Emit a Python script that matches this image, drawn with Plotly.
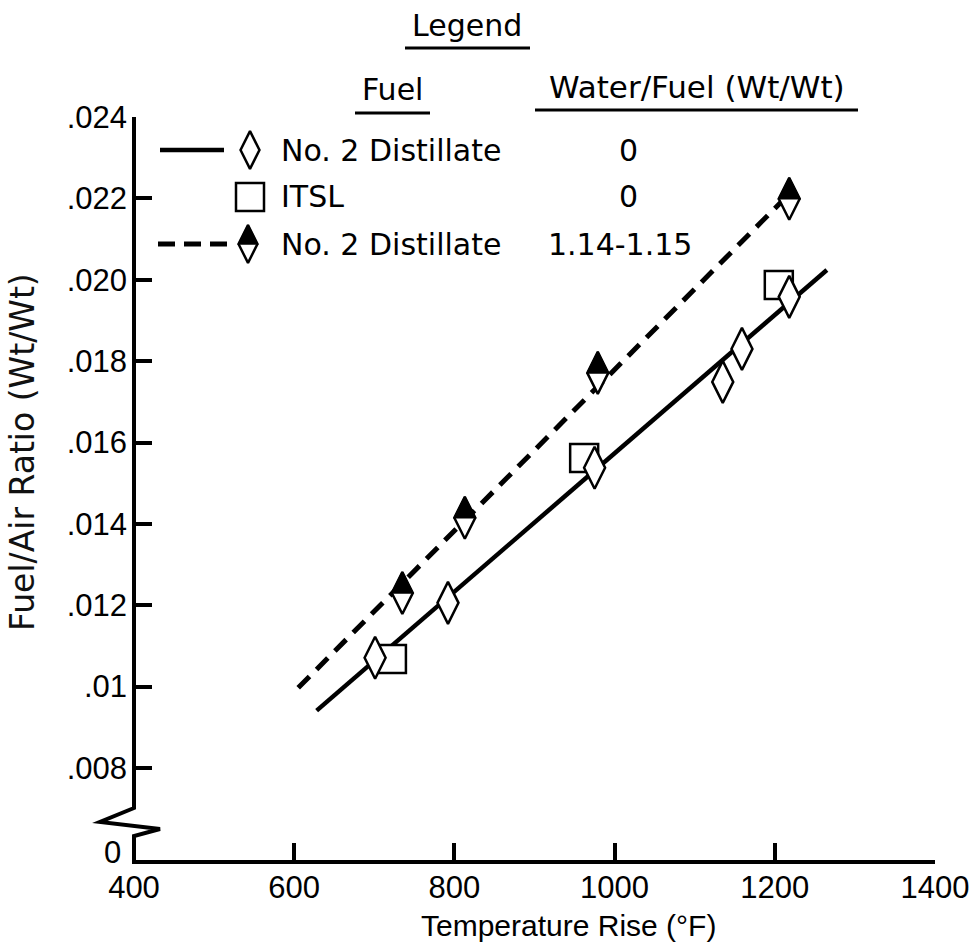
import plotly.graph_objects as go

# ---------------- data ----------------
dist_dry_x = [701, 792, 975, 1135, 1159, 1218]
dist_dry_y = [0.01071, 0.01206, 0.01538, 0.01749, 0.01830, 0.01958]
itsl_x = [722, 962, 1205]
itsl_y = [0.01068, 0.01562, 0.01987]
dist_wet_x = [735, 813, 979, 1218]
dist_wet_y = [0.01230, 0.01415, 0.01771, 0.02199]
fit_dry_x = [628, 1265]
fit_dry_y = [0.00941, 0.02024]
fit_wet_x = [605, 1212]
fit_wet_y = [0.00997, 0.02199]

x_ticks = [400, 600, 800, 1000, 1200, 1400]
x_tick_labels = ["400", "600", "800", "1000", "1200", "1400"]
y_ticks = [0.008, 0.010, 0.012, 0.014, 0.016, 0.018, 0.020, 0.022, 0.024]
y_tick_labels = [".008", ".01", ".012", ".014", ".016", ".018", ".020", ".022", ".024"]
y_break_label = "0"

legend_title = "Legend"
legend_col1 = "Fuel"
legend_col2 = "Water/Fuel (Wt/Wt)"
legend_fuels = ["No. 2 Distillate", "ITSL", "No. 2 Distillate"]
legend_ratios = ["0", "0", "1.14-1.15"]

x_title = "Temperature Rise (\u00b0F)"
y_title = "Fuel/Air Ratio (Wt/Wt)"

# ---------------- layout geometry ----------------
W, H = 980, 951
L, R, T, B = 134, 45, 117, 89
PW, PH = W - L - R, H - T - B
X_RANGE = [400, 1400]
Y_RANGE = [0.00569, 0.024]


def px(xp):
    return (xp - L) / PW


def py(yp):
    return (H - B - yp) / PH


SANS = "Liberation Sans, Arial, sans-serif"
WIDE = "DejaVu Sans, sans-serif"

fig = go.Figure()

# fitted lines
fig.add_trace(go.Scatter(x=fit_wet_x, y=fit_wet_y, mode="lines",
                         line=dict(color="black", width=5, dash="16px,10px"),
                         hoverinfo="skip", showlegend=False))
fig.add_trace(go.Scatter(x=fit_dry_x, y=fit_dry_y, mode="lines",
                         line=dict(color="black", width=4.5),
                         hoverinfo="skip", showlegend=False))


def half_diamond(fig, xs, ys, size, xaxis="x", yaxis="y"):
    fig.add_trace(go.Scatter(x=xs, y=ys, mode="markers", xaxis=xaxis, yaxis=yaxis,
                             marker=dict(symbol="diamond-tall", size=size, color="white",
                                         line=dict(color="black", width=2.5)),
                             hoverinfo="skip", showlegend=False, cliponaxis=False))
    fig.add_trace(go.Scatter(x=xs, y=ys, mode="markers", xaxis=xaxis, yaxis=yaxis,
                             marker=dict(symbol="arrow-down", size=0.7 * size, angle=180,
                                         standoff=0.7 * size, color="black",
                                         line=dict(color="black", width=1.5)),
                             hoverinfo="skip", showlegend=False, cliponaxis=False))


# squares (ITSL)
fig.add_trace(go.Scatter(x=itsl_x, y=itsl_y, mode="markers",
                         marker=dict(symbol="square", size=28, color="white",
                                     line=dict(color="black", width=2.5)),
                         showlegend=False, cliponaxis=False))
# diamonds (No. 2 distillate dry)
fig.add_trace(go.Scatter(x=dist_dry_x, y=dist_dry_y, mode="markers",
                         marker=dict(symbol="diamond-tall", size=30, color="white",
                                     line=dict(color="black", width=2.5)),
                         showlegend=False, cliponaxis=False))
# half-filled diamonds (water injected)
half_diamond(fig, dist_wet_x, dist_wet_y, 30)

# ---------------- hand-made legend (paper-like overlay axes) ----------------
row_y = [py(150), py(197), py(244)]
glyph_x = px(250)
fig.add_trace(go.Scatter(x=[px(160), px(224)], y=[row_y[0], row_y[0]], mode="lines",
                         xaxis="x2", yaxis="y2", line=dict(color="black", width=4.5),
                         hoverinfo="skip", showlegend=False))
fig.add_trace(go.Scatter(x=[px(158), px(236)], y=[row_y[2], row_y[2]], mode="lines",
                         xaxis="x2", yaxis="y2",
                         line=dict(color="black", width=5, dash="17px,9px"),
                         hoverinfo="skip", showlegend=False))
fig.add_trace(go.Scatter(x=[glyph_x], y=[row_y[0]], mode="markers", xaxis="x2", yaxis="y2",
                         marker=dict(symbol="diamond-tall", size=27, color="white",
                                     line=dict(color="black", width=2.5)),
                         hoverinfo="skip", showlegend=False, cliponaxis=False))
fig.add_trace(go.Scatter(x=[glyph_x], y=[row_y[1]], mode="markers", xaxis="x2", yaxis="y2",
                         marker=dict(symbol="square", size=28, color="white",
                                     line=dict(color="black", width=2.5)),
                         hoverinfo="skip", showlegend=False, cliponaxis=False))
half_diamond(fig, [px(248)], [row_y[2]], 27, xaxis="x2", yaxis="y2")

annotations = []
for i, (fuel, ratio) in enumerate(zip(legend_fuels, legend_ratios)):
    annotations.append(dict(x=px(279), y=row_y[i], xref="paper", yref="paper",
                            text=fuel, showarrow=False, xanchor="left", yanchor="middle",
                            font=dict(family=WIDE, size=30, color="black")))
    annotations.append(dict(x=px(628 if i < 2 else 620), y=row_y[i], xref="paper", yref="paper",
                            text=ratio, showarrow=False, xanchor="center", yanchor="middle",
                            font=dict(family=WIDE, size=30, color="black")))

annotations += [
    dict(x=px(467), y=py(26), xref="paper", yref="paper", text=legend_title, showarrow=False,
         xanchor="center", yanchor="middle", font=dict(family=WIDE, size=30, color="black")),
    dict(x=px(392), y=py(90), xref="paper", yref="paper", text=legend_col1, showarrow=False,
         xanchor="center", yanchor="middle", font=dict(family=WIDE, size=30, color="black")),
    dict(x=px(697), y=py(87), xref="paper", yref="paper", text=legend_col2, showarrow=False,
         xanchor="center", yanchor="middle", font=dict(family=WIDE, size=31, color="black")),
    dict(x=px(123), y=py(852), xref="paper", yref="paper", text=y_break_label, showarrow=False,
         xanchor="right", yanchor="middle", font=dict(family=SANS, size=31, color="black")),
    dict(x=px(568), y=py(925), xref="paper", yref="paper", text=x_title, showarrow=False,
         xanchor="center", yanchor="middle", font=dict(family=SANS, size=30, color="black")),
    dict(x=px(22), y=py(452), xref="paper", yref="paper", text=y_title, showarrow=False,
         textangle=-90, xanchor="center", yanchor="middle",
         font=dict(family=WIDE, size=33, color="#111111")),
]

shapes = [
    # y axis with break + x axis
    dict(type="path", xref="paper", yref="paper",
         path=f"M 0 1 L 0 {py(808)} L {px(100)} {py(822)} L {px(160)} {py(829)} "
              f"L 0 {py(836)} L 0 0 L 1 0",
         line=dict(color="black", width=4)),
    # underlines in legend
    dict(type="line", xref="paper", yref="paper", x0=px(405), x1=px(530), y0=py(48), y1=py(48),
         line=dict(color="black", width=3)),
    dict(type="line", xref="paper", yref="paper", x0=px(355), x1=px(430), y0=py(113), y1=py(113),
         line=dict(color="black", width=3)),
    dict(type="line", xref="paper", yref="paper", x0=px(535), x1=px(858), y0=py(110), y1=py(110),
         line=dict(color="black", width=3)),
]

fig.update_layout(
    width=W, height=H,
    margin=dict(l=L, r=R, t=T, b=B, pad=0),
    paper_bgcolor="white", plot_bgcolor="white",
    showlegend=False,
    annotations=annotations,
    shapes=shapes,
    xaxis=dict(range=X_RANGE, tickvals=x_ticks, ticktext=x_tick_labels,
               ticks="inside", ticklen=19, tickwidth=4, tickcolor="black",
               showline=False, showgrid=False, zeroline=False,
               ticklabelstandoff=4,
               tickfont=dict(family=SANS, size=31, color="black")),
    yaxis=dict(range=Y_RANGE, tickvals=y_ticks, ticktext=y_tick_labels,
               ticks="inside", ticklen=18, tickwidth=4, tickcolor="black",
               showline=False, showgrid=False, zeroline=False,
               ticklabelstandoff=6,
               tickfont=dict(family=SANS, size=31, color="black")),
    xaxis2=dict(overlaying="x", range=[0, 1], visible=False),
    yaxis2=dict(overlaying="y", range=[0, 1], visible=False),
)

fig.write_html("out.html")
